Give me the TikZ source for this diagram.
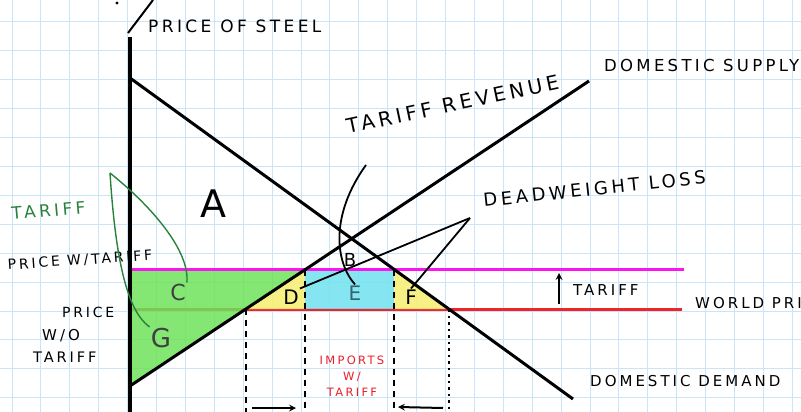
\documentclass[tikz,border=0pt]{standalone}
\usepackage{fontspec}
\usepackage{tikz}

\newfontfamily\hand[LetterSpace=20]{DejaVu Sans}
\newfontfamily\handletter{DejaVu Sans}

\definecolor{gridblue}{RGB}{202,229,249}
\definecolor{tarpink}{RGB}{250,20,240}
\definecolor{worldred}{RGB}{240,35,40}
\definecolor{hlgreen}{RGB}{110,226,90}
\definecolor{hlcyan}{RGB}{120,226,240}
\definecolor{hlyellow}{RGB}{246,240,120}
\definecolor{pengreen}{RGB}{40,130,60}
\definecolor{penred}{RGB}{235,30,40}
\definecolor{eteal}{RGB}{50,100,110}

\begin{document}
\begin{tikzpicture}[x=1pt, y=-1pt,
    lbl/.style={font=\hand\fontsize{#1}{#1}\selectfont, inner sep=0pt, anchor=base west},
    area/.style={font=\handletter\fontsize{#1}{#1}\selectfont, inner sep=1pt},
    curve/.style={line width=3pt},
    pointer/.style={line width=1.8pt},
    guide/.style={line width=2.2pt, dash pattern=on 6pt off 5pt},
    gridline/.style={gridblue, line width=1pt}]

    \useasboundingbox (0,0) rectangle (801,412);
    \clip (0,0) rectangle (801,412);

    % Squared paper
    \foreach \i in {0,...,27} \draw[gridline] (12+28.9*\i,0) -- (12+28.9*\i,412);
    \foreach \j in {0,...,13} \draw[gridline] (0,22+28.9*\j) -- (801,22+28.9*\j);

    % Axis and curve end points
    \coordinate (axtop) at (130,37);
    \coordinate (axbot) at (130,412);
    \coordinate (bot) at (0,412);
    \coordinate (d0) at (130,78);
    \coordinate (d1) at (573,399);
    \coordinate (s0) at (130,386);
    \coordinate (s1) at (589,81);
    \coordinate (pl) at (130,269.5);
    \coordinate (pr) at (684,269.5);
    \coordinate (wl) at (130,309);
    \coordinate (wr) at (682,309);
    \coordinate (st) at (intersection of s0--s1 and pl--pr);
    \coordinate (sw) at (intersection of s0--s1 and wl--wr);
    \coordinate (dt) at (intersection of d0--d1 and pl--pr);
    \coordinate (dw) at (intersection of d0--d1 and wl--wr);

    % World price line
    \draw[worldred, line width=3pt] (wl) -- (wr);

    % Shaded areas
    \fill[hlgreen, opacity=0.85] (pl) -- (st) -- (s0) -- cycle;
    \fill[hlyellow, opacity=0.9] (sw) -- (st) -- (st |- sw) -- cycle;
    \fill[hlcyan, opacity=0.9] (st) rectangle (dt |- sw);
    \fill[hlyellow, opacity=0.9] (dt) -- (dw) -- (dt |- sw) -- cycle;

    % Price with tariff
    \draw[tarpink, line width=3pt] (pl) -- (pr);

    % Axis, supply and demand
    \draw[line width=3.5pt] (axtop) -- (axbot);
    \draw[curve] (d0) -- (d1);
    \draw[curve] (s0) -- (s1);
    \coordinate (sl0) at (128,33);
    \coordinate (sl1) at (153,0);
    \draw[line width=2pt] (sl0) -- (sl1);
    \fill (117,3) circle (1.6);

    % Quantity guides
    \draw[guide] (sw) -- (sw |- bot);
    \draw[guide] (st) -- (st |- bot);
    \draw[guide] (dt) -- (dt |- bot);
    \draw[line width=2.2pt, dash pattern=on 2.5pt off 4pt] (dw) -- (dw |- bot);

    % Area letters
    \node[area=38] (A) at (213,204) {A};
    \node[area=18] (B) at (350,260) {B};
    \node[area=22, text=black!75] (C) at (178,292) {C};
    \node[area=20] (D) at (291,297) {D};
    \node[area=20, text=eteal] (E) at (355,293) {E};
    \node[area=20] (F) at (411,297) {F};
    \node[area=26, text=black!75] (G) at (161,338) {G};

    % Labels
    \node[lbl=17] (ptitle) at (148,33) {PRICE OF STEEL};
    \node[lbl=20, rotate=12] (trev) at (348,134) {TARIFF REVENUE};
    \node[lbl=16.5] (dsup) at (604,72) {DOMESTIC SUPPLY};
    \node[lbl=18, rotate=6] (dwl) at (484,207) {DEADWEIGHT LOSS};
    \node[lbl=15] (ddem) at (590,386) {DOMESTIC DEMAND};
    \node[lbl=15] (wprice) at (695,308) {WORLD PRICE};
    \node[lbl=15] (tup) at (573,295) {TARIFF};
    \node[lbl=14, rotate=4] (pwt) at (8,270) {PRICE W/TARIFF};
    \node[lbl=14] (pwo1) at (62,317) {PRICE};
    \node[lbl=15] (pwo2) at (42,340) {W/O};
    \node[lbl=14.5] (pwo3) at (33,362) {TARIFF};
    \node[lbl=17, rotate=5, text=pengreen] (gtar) at (12,220) {TARIFF};
    \node[font=\hand\fontsize{11.5}{16}\selectfont, text=penred, align=center,
        inner sep=0pt] (imports) at (352,376) {IMPORTS\\W/\\TARIFF};

    % Tariff arrow
    \coordinate (tup0) at (559,304);
    \coordinate (tup1) at (559,273);
    \draw[line width=2pt, -stealth] (tup0) -- (tup1);

    % Import arrows
    \coordinate (qa1) at (252,408);
    \coordinate (qa2) at (296,408);
    \coordinate (qb1) at (443,408);
    \coordinate (qb2) at (398,407);
    \draw[line width=2pt, -stealth] (qa1) -- (qa2);
    \draw[line width=2pt, -stealth] (qb1) -- (qb2);

    % Pointers
    \coordinate (trtip) at (366,165);
    \draw[pointer] (trtip) .. controls (330,215) and (335,262) .. (E.north);
    \coordinate (dwtip) at (470,218);
    \draw[pointer] (dwtip) -- (D.north east);
    \draw[pointer] (dwtip) -- (F.north);
    \coordinate (gtip) at (110,173);
    \draw[pengreen, line width=1.4pt] (gtip) .. controls (150,205) and (190,250) .. (C.north east);
    \draw[pengreen, line width=1.4pt] (gtip) .. controls (115,250) and (125,310) .. (G.north west);
\end{tikzpicture}
\end{document}
